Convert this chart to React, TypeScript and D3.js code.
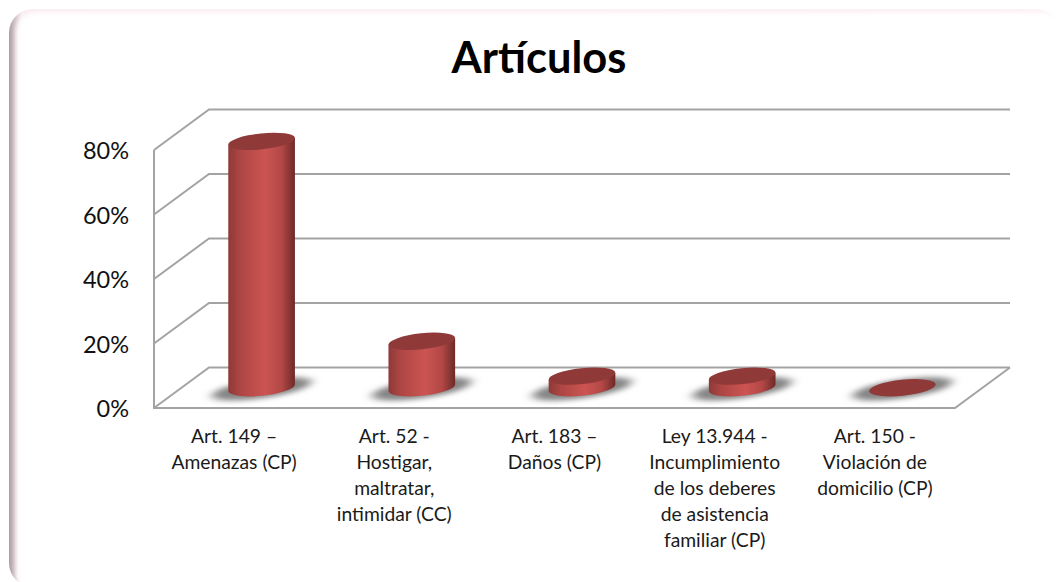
import React from "react";
import * as d3 from "d3";

const titleText = "Artículos";
const categories = [
  ["Art. 149 –", "Amenazas (CP)"],
  ["Art. 52 -", "Hostigar,", "maltratar,", "intimidar (CC)"],
  ["Art. 183 –", "Daños (CP)"],
  ["Ley 13.944 -", "Incumplimiento", "de los deberes", "de asistencia", "familiar (CP)"],
  ["Art. 150 -", "Violación de", "domicilio (CP)"],
];
const values = [76.4, 14.4, 3.6, 3.6, 0];
const yTicks = [0, 20, 40, 60, 80];

const W = 1057, H = 582;
const FONT = "Lato, 'Open Sans', sans-serif";
const front = { left: 154, right: 955, bottom: 408, top: 150 };
const depth = { x: 55, y: 40.5 };
const gridColor = "#a3a3a3";

const x = d3.scaleBand<number>().domain(d3.range(values.length)).range([front.left, front.right]);
const yFront = d3.scaleLinear().domain([0, 80]).range([front.bottom, front.top]);
const heightOf = (v: number) => yFront(0) - yFront(v);

const A = 33.5, B = 8, ROT = -6;
const th = (ROT * Math.PI) / 180;
const tanX = Math.sqrt(A * A * Math.cos(th) ** 2 + B * B * Math.sin(th) ** 2);
const tanY = ((A * A - B * B) * Math.abs(Math.sin(th)) * Math.cos(th)) / tanX;

export default function App() {
  const baseY = front.bottom - depth.y / 2;
  return (
    <svg width={W} height={H} viewBox={`0 0 ${W} ${H}`} style={{ position: "fixed", left: 0, top: 0, background: "#fff" }}>
      <defs>
        <linearGradient id="cyl" x1="0" x2="1" y1="0" y2="0">
          <stop offset="0" stopColor="#8e3937" />
          <stop offset="0.18" stopColor="#ad4644" />
          <stop offset="0.55" stopColor="#cc5452" />
          <stop offset="0.8" stopColor="#b24846" />
          <stop offset="1" stopColor="#6d2a28" />
        </linearGradient>
        <linearGradient id="card" gradientUnits="userSpaceOnUse" x1="9" x2="1060" y1="0" y2="0">
          <stop offset="0" stopColor="#ab9ca0" />
          <stop offset="0.012" stopColor="#f9ecef" />
          <stop offset="1" stopColor="#fbeef1" />
        </linearGradient>
        <filter id="soft" x="-40%" y="-150%" width="180%" height="400%">
          <feGaussianBlur stdDeviation="5.5 2.6" />
        </filter>
        <filter id="inner" x="-5%" y="-5%" width="110%" height="110%">
          <feGaussianBlur stdDeviation="2.5" />
        </filter>
      </defs>

      {/* card frame */}
      <rect x={9} y={9} width={1051} height={578} rx={24} fill="url(#card)" />
      <rect x={16} y={12} width={1048} height={582} rx={20} fill="#fff" filter="url(#inner)" />

      {/* title */}
      <text x={539} y={73} textAnchor="middle" fontFamily={FONT} fontWeight={700} fontSize={43.5} fill="#000">{titleText}</text>

      {/* walls */}
      <g fill="none" stroke={gridColor} strokeWidth={2}>
        {yTicks.map((t) => (
          <path key={t} d={`M${front.left},${yFront(t)}L${front.left + depth.x},${yFront(t) - depth.y}L${front.right + depth.x},${yFront(t) - depth.y}`} />
        ))}
        <path d={`M${front.left},${front.top}V${front.bottom}H${front.right}L${front.right + depth.x},${front.bottom - depth.y}`} />
      </g>

      {/* y tick labels */}
      {yTicks.map((t) => (
        <text key={t} x={129} y={yFront(t) + 9} textAnchor="end" fontFamily={FONT} fontSize={23.5} fill="#111">{t}%</text>
      ))}

      {/* shadows */}
      {values.map((_, i) => {
        const cx = x(i)! + x.bandwidth() / 2 + depth.x / 2;
        return <ellipse key={i} cx={cx} cy={baseY + 1} rx={50} ry={9.5} transform={`rotate(-8 ${cx} ${baseY + 1})`} fill="#858585" filter="url(#soft)" />;
      })}

      {/* cylinders */}
      {values.map((v, i) => {
        const cx = x(i)! + x.bandwidth() / 2 + depth.x / 2;
        const topY = baseY - heightOf(v);
        const wall = `M${cx - tanX},${topY + tanY}L${cx + tanX},${topY - tanY}L${cx + tanX},${baseY - tanY}A${A},${B} ${ROT} 0 1 ${cx - tanX},${baseY + tanY}Z`;
        return (
          <g key={i}>
            {v > 0 && <path d={wall} fill="url(#cyl)" />}
            <ellipse cx={cx} cy={topY} rx={A} ry={B} transform={`rotate(${ROT} ${cx} ${topY})`} fill="#8f3a39" />
          </g>
        );
      })}

      {/* category labels */}
      {categories.map((lines, i) => (
        <text key={i} textAnchor="middle" fontFamily={FONT} fontSize={19.3} fill="#1a1a1a">
          {lines.map((l, j) => (
            <tspan key={j} x={x(i)! + x.bandwidth() / 2} y={443 + j * 26}>{l}</tspan>
          ))}
        </text>
      ))}
    </svg>
  );
}
